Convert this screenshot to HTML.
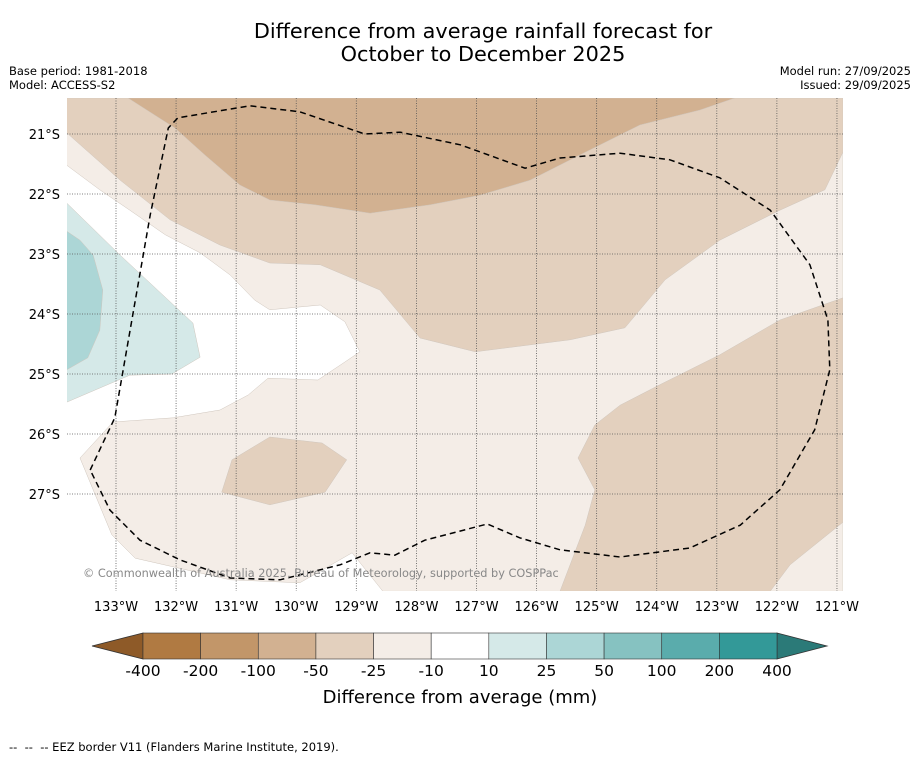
<!DOCTYPE html>
<html><head><meta charset="utf-8"><style>
body{margin:0;background:#fff;}
svg{display:block;font-family:"DejaVu Sans","Liberation Sans",sans-serif;}
</style></head><body>
<svg id="chart" width="919" height="758" viewBox="0 0 919 758" xmlns="http://www.w3.org/2000/svg">
<rect width="919" height="758" fill="#fff"/>
<text x="483" y="38" font-size="20.8" text-anchor="middle">Difference from average rainfall forecast for</text>
<text x="483" y="61" font-size="20.8" text-anchor="middle">October to December 2025</text>
<text x="9" y="75" font-size="11.5">Base period: 1981-2018</text>
<text x="9" y="89" font-size="11.5">Model: ACCESS-S2</text>
<text x="911" y="75" font-size="11.5" text-anchor="end">Model run: 27/09/2025</text>
<text x="911" y="89" font-size="11.5" text-anchor="end">Issued: 29/09/2025</text>
<defs><clipPath id="mapclip"><rect x="67" y="98" width="776" height="493"/></clipPath></defs>
<g id="map" clip-path="url(#mapclip)"></g>
<g id="axes"></g>
<g id="cbar"></g>
<text x="460" y="703" font-size="18" text-anchor="middle">Difference from average (mm)</text>
<text x="9" y="751" font-size="11.5" style="white-space:pre" xml:space="preserve">--  --  -- EEZ border V11 (Flanders Marine Institute, 2019).</text>
</svg>
<script>
// Contour polygons as [lon °W, lat °S]
const levelLight = [[133.82,20.40],[120.90,20.40],[120.90,28.62],[128.56,28.62],[129.07,27.98],[129.94,28.48],[131.10,28.43],[132.68,28.07],[133.07,27.68],[133.60,26.40],[133.05,25.80],[132.05,25.73],[131.27,25.60],[130.80,25.35],[130.47,25.07],[129.64,25.10],[129.19,24.80],[128.94,24.63],[129.19,24.13],[129.60,23.85],[130.44,23.93],[130.69,23.77],[131.10,23.35],[131.60,22.98],[132.18,22.68],[132.77,22.27],[133.27,21.93],[133.82,21.52]];
const level50Top = [[133.82,20.40],[120.90,20.40],[120.90,21.30],[121.20,21.93],[121.95,22.27],[122.95,22.77],[123.86,23.43],[124.53,24.23],[125.44,24.43],[127.02,24.63],[127.94,24.40],[128.61,23.60],[129.60,23.18],[130.44,23.15],[131.27,22.85],[132.10,22.43],[132.93,21.77],[133.82,20.98]];
const level50Right = [[120.90,23.73],[121.95,24.10],[122.95,24.68],[123.95,25.18],[124.61,25.52],[125.03,25.85],[125.31,26.40],[125.03,26.93],[125.19,27.52],[125.61,28.62],[122.11,28.62],[121.78,28.18],[120.90,27.47]];
const level50Island = [[131.07,26.43],[130.44,26.05],[129.57,26.15],[129.16,26.43],[129.52,26.97],[130.44,27.18],[131.24,26.97]];
const level100 = [[132.80,20.40],[132.02,20.90],[131.52,21.35],[130.94,21.85],[130.44,22.10],[129.69,22.18],[128.77,22.32],[127.77,22.18],[126.94,22.02],[126.11,21.77],[125.28,21.35],[124.28,20.85],[123.28,20.60],[122.70,20.40]];
const levelTeal10 = [[133.82,22.15],[132.93,23.02],[131.72,24.15],[131.60,24.72],[132.07,25.00],[132.77,25.02],[133.82,25.47]];
const levelTeal25 = [[133.82,22.62],[133.60,22.77],[133.38,23.02],[133.22,23.60],[133.27,24.27],[133.47,24.73],[133.82,24.93]];
const eezBorder = [[133.43,26.60],[133.02,25.73],[132.43,22.35],[132.13,20.90],[131.97,20.73],[130.77,20.53],[129.94,20.63],[128.86,21.00],[128.27,20.97],[127.27,21.18],[126.19,21.57],[125.61,21.40],[124.61,21.32],[123.78,21.43],[122.95,21.73],[122.11,22.27],[121.45,23.18],[121.15,24.10],[121.12,24.93],[121.37,25.93],[121.95,26.93],[122.61,27.52],[123.45,27.90],[124.61,28.05],[125.61,27.93],[126.28,27.73],[126.82,27.50],[127.86,27.77],[128.36,28.02],[128.77,27.98],[129.27,28.18],[130.27,28.43],[131.10,28.40],[131.93,28.10],[132.60,27.77],[133.10,27.27],[133.43,26.60]];
const lonTicks = [133,132,131,130,129,128,127,126,125,124,123,122,121];
const latTicks = [21,22,23,24,25,26,27];
const cbarLabels = ["-400","-200","-100","-50","-25","-10","10","25","50","100","200","400"];
const cbarColors = ["#b07a42","#c29669","#d2b191","#e3d0be","#f4ede7","#ffffff","#d5e9e8","#acd6d6","#86c2c1","#5aacac","#339998"];

const NS="http://www.w3.org/2000/svg";
function xOf(lonW){return 116+(133-lonW)*60.08;}
function yOf(latS){return 134+(latS-21)*60;}
function mk(tag,attrs,parent){const e=document.createElementNS(NS,tag);for(const k in attrs)e.setAttribute(k,attrs[k]);parent.appendChild(e);return e;}
function pts(a){return a.map(p=>xOf(p[0]).toFixed(1)+","+yOf(p[1]).toFixed(1)).join(" ");}
const map=document.getElementById('map');
const bg=mk('rect',{x:67,y:98,width:776,height:493,fill:'#fff'},map);


const layers=[[levelLight,'#f4ede7','contour-minus25'],[level50Top,'#e3d0be','contour-minus50-north'],[level50Right,'#e3d0be','contour-minus50-southeast'],[level50Island,'#e3d0be','contour-minus50-island'],[level100,'#d2b191','contour-minus100'],[levelTeal10,'#d5e9e8','contour-plus10'],[levelTeal25,'#acd6d6','contour-plus25']];
layers.forEach(l=>{const p=mk('polygon',{points:pts(l[0]),fill:l[1],stroke:'#cfc6bd','stroke-width':0.5},map);

});
const ax=document.getElementById('axes');
lonTicks.forEach(t=>{const x=xOf(t);
const g=mk('line',{x1:x,x2:x,y1:98,y2:591,stroke:'#555','stroke-width':0.8,'stroke-dasharray':'1,1.5'},map);


const tx=mk('text',{x:x,y:611,'font-size':13,'text-anchor':'middle'},ax);tx.textContent=t+"°W";

});
latTicks.forEach(t=>{const y=yOf(t);
const g=mk('line',{x1:67,x2:843,y1:y,y2:y,stroke:'#555','stroke-width':0.8,'stroke-dasharray':'1,1.5'},map);


const tx=mk('text',{x:60,y:y+5,'font-size':13,'text-anchor':'end'},ax);tx.textContent=t+"°S";

});
const eez=mk('polyline',{points:pts(eezBorder),fill:'none',stroke:'#000','stroke-width':1.5,'stroke-dasharray':'6,4'},map);


const cr=mk('text',{x:83,y:577,'font-size':11.3,fill:'#888'},map);cr.textContent="© Commonwealth of Australia 2025, Bureau of Meteorology, supported by COSPPac";


const cb=document.getElementById('cbar');
const x0=143,x1=777,cy0=633,cy1=659,w=(x1-x0)/cbarColors.length;
const lt=mk('polygon',{points:`${x0},${cy0} ${x0},${cy1} 92,646`,fill:'#8e5a28',stroke:'#333','stroke-width':0.8},cb);


const rt=mk('polygon',{points:`${x1},${cy0} ${x1},${cy1} 827,646`,fill:'#2b7a78',stroke:'#333','stroke-width':0.8},cb);


cbarColors.forEach((c,i)=>{const r=mk('rect',{x:x0+i*w,y:cy0,width:w,height:cy1-cy0,fill:c,stroke:'#333','stroke-width':0.6},cb);

});
cbarLabels.forEach((s,i)=>{const t=mk('text',{x:x0+i*w,y:676,'font-size':15.5,'text-anchor':'middle'},cb);t.textContent=s;

});
</script>
</body></html>
